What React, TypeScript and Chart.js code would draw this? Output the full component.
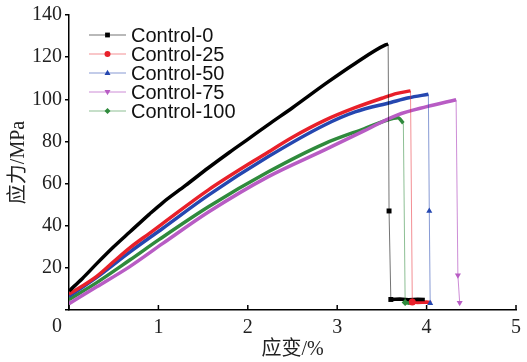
import React, { useEffect, useRef } from 'react';
import { Chart, registerables } from 'chart.js';

Chart.register(...registerables);

const seriesNames = ['Control-0', 'Control-25', 'Control-50', 'Control-75', 'Control-100'];
const seriesColors = ['#000000', '#e8202a', '#2547b0', '#b85cc4', '#2f8a3c'];
const dropColors = ['rgba(0,0,0,0.55)', 'rgba(232,32,42,0.5)', 'rgba(37,71,176,0.55)', 'rgba(184,92,196,0.7)', 'rgba(47,138,60,0.55)'];
const markerStyles = ['rect', 'circle', 'triangle', 'triangle', 'rectRot'];
const markerRotations = [0, 0, 0, 180, 0];

const xTickValues = [0, 1, 2, 3, 4, 5];
const yTickValues = [20, 40, 60, 80, 100, 120, 140];

// Control-0
const c0Strain = [0, 0.15, 0.31, 0.5, 0.68, 0.9, 1.05, 1.3, 1.56, 1.8, 2.0, 2.23, 2.5, 2.89, 3.2, 3.54, 3.57];
const c0Stress = [9, 15, 22, 30, 37, 45.5, 51, 59, 67.5, 75, 81, 88, 96, 108, 117, 125.8, 126.2];
const c0DropStrain = [3.57, 3.58, 3.6];
const c0DropStress = [126.2, 47, 5];
const c0TailStrain = [3.6, 3.7, 3.8, 3.9, 3.98];
const c0TailStress = [5, 5.2, 4.9, 5.1, 5];

// Control-25
const c25Strain = [0, 0.31, 0.5, 0.68, 0.9, 1.05, 1.56, 2.23, 2.5, 2.86, 3.2, 3.5, 3.67, 3.82];
const c25Stress = [7.5, 16, 23, 29.5, 36.4, 41.1, 57, 75, 82, 90, 96, 100.5, 102.8, 104];
const c25DropStrain = [3.82, 3.84];
const c25DropStress = [104, 3.8];
const c25TailStrain = [3.84, 3.9, 4.0, 4.05];
const c25TailStress = [3.8, 3.6, 3.8, 3.4];

// Control-50
const c50Strain = [0, 0.31, 0.68, 1.05, 1.56, 2.23, 2.86, 3.2, 3.6, 3.8, 4.02];
const c50Stress = [6.5, 15.5, 27.5, 38.8, 54.5, 72.8, 87.8, 94, 98.5, 100.7, 102.4];
const c50DropStrain = [4.02, 4.03, 4.04];
const c50DropStress = [102.4, 47, 3.2];

// Control-75
const c75Strain = [0, 0.31, 0.68, 1.05, 1.56, 2.23, 2.86, 3.3, 3.67, 4.0, 4.33];
const c75Stress = [3, 11, 20.6, 31.6, 46.5, 63.3, 76, 85, 92.5, 96.5, 99.8];
const c75DropStrain = [4.33, 4.35, 4.37];
const c75DropStress = [99.8, 16.5, 3.5];

// Control-100
const c100Strain = [0, 0.31, 0.68, 1.01, 1.56, 2.23, 2.86, 3.3, 3.63, 3.68, 3.74];
const c100Stress = [5, 13, 23.7, 33.5, 49, 65.6, 79, 86, 91, 91.2, 88.6];
const c100DropStrain = [3.74, 3.76];
const c100DropStress = [88.6, 3.6];
const c100TailStrain = [3.76, 3.8, 3.84];
const c100TailStress = [3.6, 3.2, 3.5];

const mainCurves = [
  [c0Strain, c0Stress],
  [c25Strain, c25Stress],
  [c50Strain, c50Stress],
  [c75Strain, c75Stress],
  [c100Strain, c100Stress],
];
const dropCurves = [
  [c0DropStrain, c0DropStress],
  [c25DropStrain, c25DropStress],
  [c50DropStrain, c50DropStress],
  [c75DropStrain, c75DropStress],
  [c100DropStrain, c100DropStress],
];
const tailCurves: (number[][] | null)[] = [
  [c0TailStrain, c0TailStress],
  [c25TailStrain, c25TailStress],
  null,
  null,
  [c100TailStrain, c100TailStress],
];

const zip = (xs: number[], ys: number[]) => xs.map((x, i) => ({ x, y: ys[i] }));

const SERIF = '"Liberation Serif", "Noto Sans CJK SC", serif';
const SANS = '"Liberation Sans", Arial, sans-serif';

function drawMarker(ctx: CanvasRenderingContext2D, style: string, rot: number, x: number, y: number, r: number, color: string) {
  ctx.save();
  ctx.fillStyle = color;
  ctx.translate(x, y);
  ctx.rotate((rot * Math.PI) / 180);
  ctx.beginPath();
  if (style === 'rect') {
    ctx.rect(-r * 0.8, -r * 0.8, r * 1.6, r * 1.6);
  } else if (style === 'circle') {
    ctx.arc(0, 0, r, 0, Math.PI * 2);
  } else if (style === 'triangle') {
    ctx.moveTo(0, -r * 1.1);
    ctx.lineTo(r, r * 0.7);
    ctx.lineTo(-r, r * 0.7);
    ctx.closePath();
  } else {
    ctx.moveTo(0, -r);
    ctx.lineTo(r, 0);
    ctx.lineTo(0, r);
    ctx.lineTo(-r, 0);
    ctx.closePath();
  }
  ctx.fill();
  ctx.restore();
}

const decorPlugin = {
  id: 'decor',
  afterDraw(chart: any) {
    const { ctx, chartArea } = chart;
    const xs = chart.scales.x;
    const ys = chart.scales.y;
    ctx.save();
    ctx.strokeStyle = '#000';
    ctx.lineWidth = 1.5;
    xTickValues.forEach((v) => {
      const px = xs.getPixelForValue(v);
      ctx.beginPath();
      ctx.moveTo(px, ys.bottom);
      ctx.lineTo(px, ys.bottom - 5);
      ctx.stroke();
    });
    ctx.fillStyle = '#222';
    ctx.font = '20px ' + SERIF;
    ctx.textAlign = 'center';
    ctx.textBaseline = 'middle';
    ctx.fillText('0', xs.getPixelForValue(0) - 12, ys.bottom + 17);
    ctx.font = '20px ' + SANS;
    ctx.textAlign = 'left';
    seriesNames.forEach((name, i) => {
      const y = chartArea.top + 20 + i * 19;
      const x0 = chartArea.left + 20;
      const x1 = chartArea.left + 57;
      ctx.strokeStyle = dropColors[i];
      ctx.lineWidth = 1;
      ctx.beginPath();
      ctx.moveTo(x0, y);
      ctx.lineTo(x1, y);
      ctx.stroke();
      drawMarker(ctx, markerStyles[i], markerRotations[i], (x0 + x1) / 2, y, 3, seriesColors[i]);
      ctx.fillStyle = '#111';
      ctx.fillText(name, chartArea.left + 62, y + 1);
    });
    ctx.restore();
  },
};

export default function App() {
  const ref = useRef<HTMLCanvasElement>(null);
  useEffect(() => {
    document.body.style.margin = '0';
    let chart: Chart | null = null;
    let cancelled = false;
    const build = () => {
      if (cancelled || !ref.current) return;
      const datasets: any[] = [];
      mainCurves.forEach(([xs, ys], i) => {
        datasets.push({
          label: seriesNames[i],
          data: zip(xs, ys),
          borderColor: seriesColors[i],
          backgroundColor: seriesColors[i],
          borderWidth: 3.5,
          pointRadius: 0,
          cubicInterpolationMode: 'monotone',
          order: 2,
        });
      });
      dropCurves.forEach(([xs, ys], i) => {
        datasets.push({
          label: seriesNames[i] + ' drop',
          data: zip(xs, ys),
          borderColor: dropColors[i],
          backgroundColor: seriesColors[i],
          borderWidth: 1,
          pointStyle: markerStyles[i],
          pointRotation: markerRotations[i],
          pointRadius: (c: any) => (c.dataIndex === 0 ? 0 : 3.5),
          pointBorderWidth: 0,
          tension: 0,
          order: 1,
        });
      });
      tailCurves.forEach((t, i) => {
        if (!t) return;
        datasets.push({
          label: seriesNames[i] + ' tail',
          data: zip(t[0], t[1]),
          borderColor: seriesColors[i],
          backgroundColor: seriesColors[i],
          borderWidth: 3.5,
          pointRadius: 0,
          tension: 0,
          order: 3,
        });
      });

      chart = new Chart(ref.current, {
        type: 'line',
        data: { datasets },
        options: {
          animation: false,
          responsive: false,
          parsing: false as any,
          layout: { padding: { top: 15, right: 7, left: 0, bottom: 0 } },
          plugins: { legend: { display: false }, tooltip: { enabled: false } },
          scales: {
            x: {
              type: 'linear',
              min: 0,
              max: 5,
              afterFit: (s: any) => { s.height = 52; },
              afterBuildTicks: (s: any) => { s.ticks = xTickValues.map((v) => ({ value: v })); },
              ticks: {
                color: '#222',
                font: { family: SERIF, size: 20 },
                padding: 6,
                maxRotation: 0,
                callback: (v: any) => (v === 0 ? '' : String(v)),
              },
              grid: { display: false, drawTicks: false },
              border: { display: true, color: '#000', width: 1.5 },
              title: {
                display: true,
                text: '应变/%',
                color: '#222',
                font: { family: SERIF, size: 20 },
                padding: { top: 0, bottom: 0 },
              },
            },
            y: {
              type: 'linear',
              min: 0,
              max: 140,
              afterFit: (s: any) => { s.width = 69; },
              afterBuildTicks: (s: any) => { s.ticks = [0, ...yTickValues].map((v) => ({ value: v })); },
              ticks: {
                color: '#222',
                font: { family: SERIF, size: 20 },
                padding: 3,
                callback: (v: any) => (v === 0 ? '' : String(v)),
              },
              grid: { display: true, drawOnChartArea: false, drawTicks: true, tickLength: 4, color: '#000', lineWidth: 1.5 },
              border: { display: true, color: '#000', width: 1.5 },
              title: {
                display: true,
                text: '应力/MPa',
                color: '#222',
                font: { family: SERIF, size: 20 },
                padding: { top: 7, bottom: 0 },
              },
            },
          },
        },
        plugins: [decorPlugin],
      });
    };
    const fonts = (document as any).fonts;
    const fontsReady = fonts
      ? Promise.all([
          fonts.load('20px "Liberation Serif"', '0123456789MPa'),
          fonts.load('20px "Liberation Sans"', 'Control'),
          fonts.load('20px "Noto Sans CJK SC"', '应力变'),
        ]).catch(() => null)
      : Promise.resolve(null);
    fontsReady.then(build);
    return () => {
      cancelled = true;
      if (chart) chart.destroy();
    };
  }, []);
  return <canvas ref={ref} width={527} height={362} style={{ width: 527, height: 362, display: 'block' }} />;
}
